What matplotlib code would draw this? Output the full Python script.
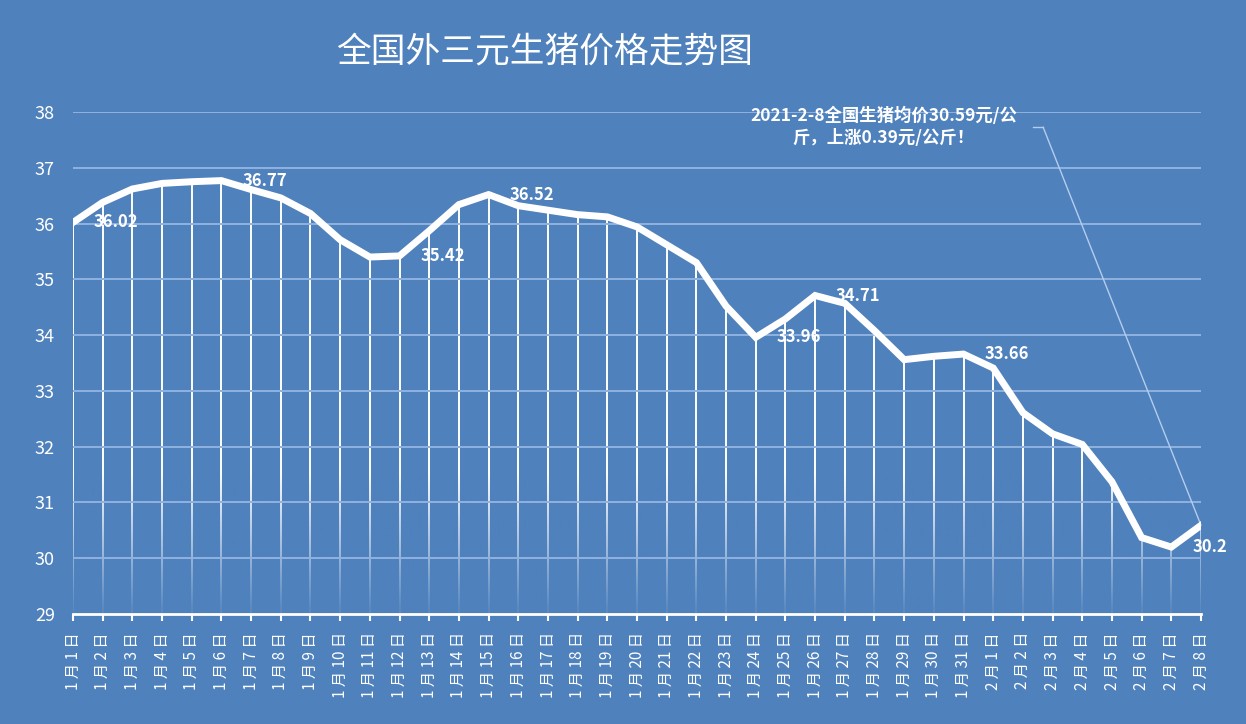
import re
import numpy as np
import matplotlib
matplotlib.use("Agg")
import matplotlib.pyplot as plt
from matplotlib.colors import to_rgb

plt.rcParams['font.family'] = ['Noto Sans CJK SC', 'DejaVu Sans']

# data (price, yuan/kg)
dates = [f"1月{d}日" for d in range(1, 32)] + [f"2月{d}日" for d in range(1, 9)]
prices = [36.02, 36.38, 36.62, 36.72, 36.75, 36.77, 36.61, 36.46, 36.18, 35.71,
          35.40, 35.42, 35.87, 36.34, 36.52, 36.32, 36.24, 36.16, 36.12, 35.94,
          35.62, 35.30, 34.52, 33.96, 34.29, 34.71, 34.57, 34.08, 33.56, 33.62,
          33.66, 33.41, 32.61, 32.23, 32.04, 31.37, 30.37, 30.20, 30.59]
labelled = [0, 5, 11, 14, 23, 25, 30, 37]
y_ticks = list(range(29, 39))
title = "全国外三元生猪价格走势图"
note = "2021-2-8全国生猪均价30.59元/公\n斤，上涨0.39元/公斤！"

bg = "#4f81bd"
grid_col = "#8fb2e0"
lead_col = "#b4cdec"


def spaced(label):
    # Excel draws these rotated labels with some letter spacing
    return " ".join(re.findall(r"\d+|\D", label))


fig = plt.figure(figsize=(12.46, 7.24), dpi=100, facecolor=bg)
ax = fig.add_axes([73 / 1246, 1 - 614 / 724, (1201 - 73) / 1246, (614 - 112) / 724])
ax.set_facecolor(bg)

x = np.arange(len(prices))
ax.set_xlim(0, len(prices) - 1)
ax.set_ylim(29, 38)

# drop lines from each point to the axis
ax.vlines(x, 29, prices, colors="white", linewidth=1.4, zorder=1)

# fade the drop lines near the bottom
rgb = to_rgb(bg)
grad = np.zeros((200, 2, 4))
grad[..., :3] = rgb
alpha = np.clip((31.5 - np.linspace(38, 29, 200)) / 2.4, 0, 1) * 0.93
grad[..., 3] = alpha[:, None]
ax.imshow(grad, extent=(0, len(prices) - 1, 29, 38), aspect="auto", zorder=1.5,
          interpolation="bilinear")

# horizontal gridlines
ax.hlines(y_ticks[1:], 0, len(prices) - 1, colors=grid_col, linewidth=1.4, zorder=2)

ax.plot(x, prices, color="white", linewidth=5, solid_joinstyle="miter", zorder=3)

for i in labelled:
    ax.annotate(f"{prices[i]:g}", (x[i], prices[i]), xytext=(15, 0),
                textcoords="offset points", ha="left", va="center",
                color="white", fontsize=12, fontweight="bold", zorder=4,
                annotation_clip=False)

ax.set_yticks(y_ticks)
ax.set_xticks(x)
ax.set_xticklabels([spaced(d) for d in dates], rotation=90, fontsize=11, color="white")
ax.tick_params(axis="y", length=0, pad=13, labelsize=13, labelcolor="white")
ax.tick_params(axis="x", length=5, width=1.5, color="white", pad=8)
for s in ["left", "right", "top"]:
    ax.spines[s].set_visible(False)
ax.spines["bottom"].set_color("white")
ax.spines["bottom"].set_linewidth(2)

# callout
ax.text(27.3, 37.73, note, ha="center", va="center", color="white",
        fontsize=12.5, fontweight="bold", linespacing=1.25, zorder=4)
ax.plot([32.34, 32.68], [37.73, 37.73], color=lead_col, linewidth=1, zorder=2.5)
ax.annotate("", xy=(x[-1], prices[-1]), xytext=(32.68, 37.73),
            arrowprops=dict(arrowstyle="-", color=lead_col, linewidth=1,
                            shrinkA=0, shrinkB=0), zorder=2.5)

fig.text(545 / 1246, 1 - 52 / 724, title, ha="center", va="center",
         color="white", fontsize=25)

fig.savefig("out.png", dpi=100, facecolor=bg)
